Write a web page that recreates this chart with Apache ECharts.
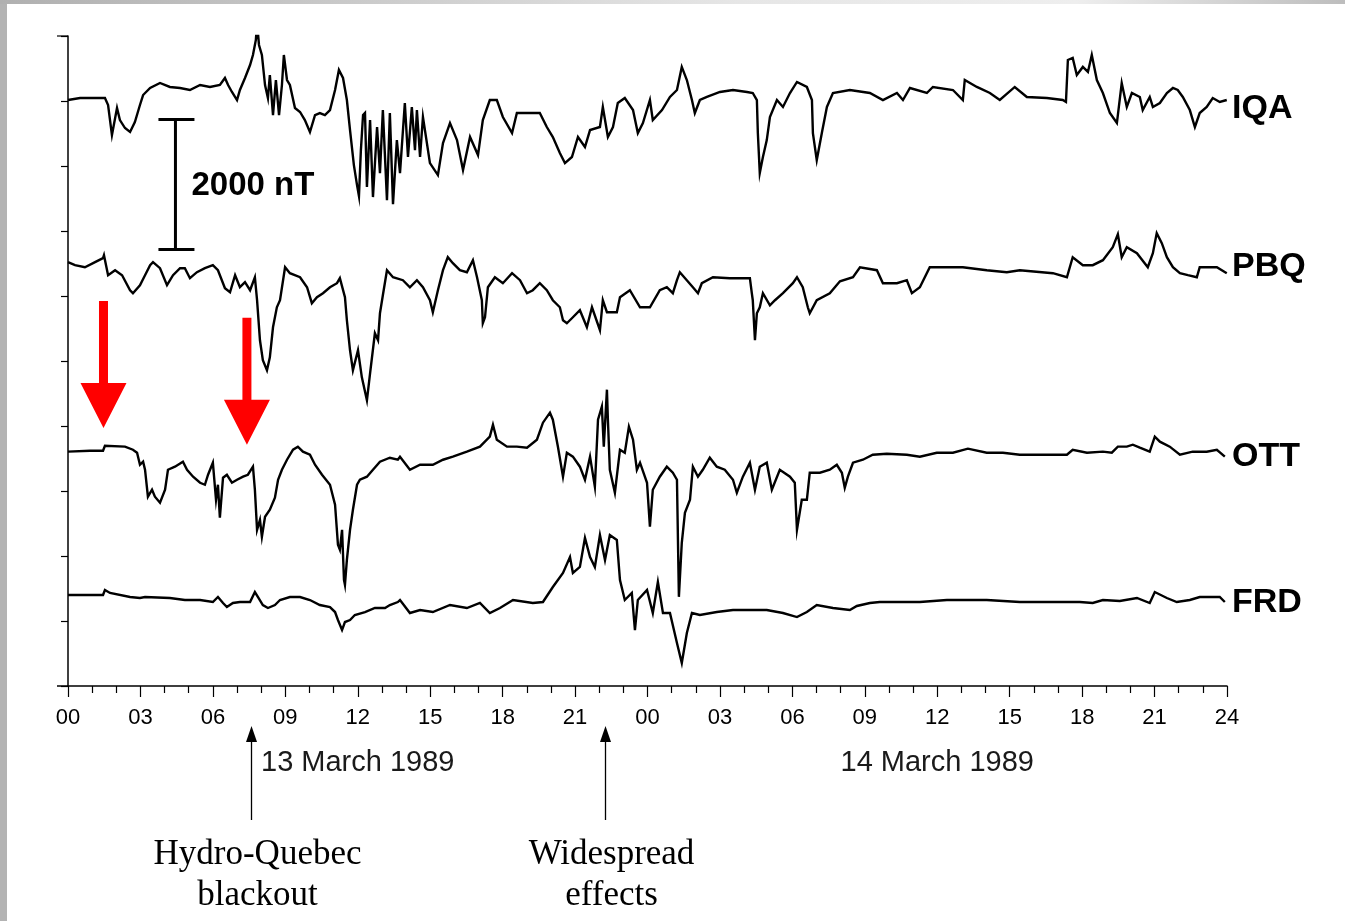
<!DOCTYPE html>
<html>
<head>
<meta charset="utf-8">
<title>Magnetograms, 13-14 March 1989</title>
<script src="https://cdn.jsdelivr.net/npm/echarts@6/dist/echarts.min.js"></script>
<style>
  html, body { margin: 0; padding: 0; background: #fff; }
  #chart { width: 1345px; height: 921px; }
</style>
</head>
<body>
<div id="chart"></div>
<script>
// Hours since 00 UT on 13 March 1989 (0..48); values are field deviations in nT
// from each station's quiet level. Traces are stacked by stationOffsets.
const stationNames = ['IQA', 'PBQ', 'OTT', 'FRD'];
const stationOffsets = [9000, 6520, 3620, 1400];

const iqaData = [
  [0.00,15],[0.50,46],[1.53,46],[1.66,-62],[1.82,-524],[1.86,-554],[2.03,-108],[2.15,-293],[2.36,-416],[2.57,-477],
  [2.77,-323],[2.98,-62],[3.11,92],[3.40,200],[3.81,277],[4.22,216],[4.64,200],[5.05,169],[5.47,246],[5.88,216],
  [6.29,246],[6.50,354],[6.63,246],[6.79,139],[7.00,15],[7.12,169],[7.33,354],[7.54,554],[7.66,708],[7.78,939],
  [7.83,1201],[7.91,862],[8.03,708],[8.16,246],[8.28,46],[8.36,400],[8.49,-216],[8.61,323],[8.74,-216],[8.86,246],
  [8.94,708],[9.07,323],[9.19,246],[9.40,-108],[9.61,-169],[9.81,-293],[10.02,-477],[10.23,-216],[10.43,-185],[10.64,-216],
  [10.85,-139],[11.06,169],[11.22,477],[11.39,354],[11.55,15],[11.68,-447],[11.84,-986],[11.97,-1294],[12.05,-1463],[12.13,-755],
  [12.22,-216],[12.30,-185],[12.38,-1324],[12.51,-293],[12.63,-1478],[12.80,-400],[12.92,-1109],[13.04,-139],[13.21,-1525],[13.33,-185],
  [13.46,-1586],[13.62,-601],[13.75,-1109],[13.95,-31],[14.08,-862],[14.24,-92],[14.37,-755],[14.45,-139],[14.58,-862],[14.70,-246],
  [14.99,-955],[15.32,-1140],[15.53,-647],[15.82,-339],[16.11,-601],[16.36,-1063],[16.65,-554],[16.98,-832],[17.18,-293],[17.47,15],
  [17.76,15],[18.01,-246],[18.39,-493],[18.59,-185],[19.01,-185],[19.54,-185],[19.83,-400],[20.08,-554],[20.37,-801],[20.58,-955],
  [20.87,-862],[21.12,-554],[21.41,-708],[21.62,-447],[22.03,-400],[22.15,-92],[22.36,-554],[22.57,-400],[22.77,-31],[23.06,46],
  [23.40,-139],[23.60,-493],[23.81,-339],[24.10,15],[24.22,-293],[24.60,-139],[24.93,62],[25.22,169],[25.42,524],[25.63,323],
  [25.84,15],[25.96,-185],[26.17,15],[26.46,62],[27.00,139],[27.54,169],[28.12,139],[28.36,123],[28.53,15],[28.57,-493],
  [28.65,-1109],[28.78,-862],[28.94,-601],[29.07,-246],[29.36,15],[29.61,-92],[29.90,123],[30.19,293],[30.60,216],[30.81,15],
  [30.85,-493],[31.01,-909],[31.22,-493],[31.43,-92],[31.68,123],[32.38,169],[33.21,123],[33.75,15],[34.33,123],[34.58,15],
  [34.87,200],[35.57,123],[35.82,216],[36.65,169],[37.06,15],[37.14,323],[37.64,216],[38.18,123],[38.59,15],[39.21,216],
  [39.71,62],[40.54,46],[41.20,15],[41.33,-15],[41.41,631],[41.61,662],[41.78,400],[42.03,524],[42.24,447],[42.40,708],
  [42.61,323],[42.86,123],[43.15,-185],[43.44,-339],[43.64,277],[43.85,-92],[44.06,123],[44.39,62],[44.51,-139],[44.80,62],
  [44.93,-92],[45.22,-31],[45.51,123],[45.76,200],[45.96,169],[46.17,62],[46.46,-139],[46.67,-400],[46.87,-185],[47.16,-92],
  [47.41,46],[47.70,-15],[47.99,15]
];

const pbqData = [
  [0.00,0],[0.29,-46],[0.70,-77],[1.12,0],[1.45,62],[1.49,108],[1.66,-200],[1.95,-123],[2.24,-200],[2.57,-431],
  [2.69,-477],[2.98,-354],[3.19,-200],[3.40,-46],[3.52,0],[3.81,-92],[4.10,-354],[4.35,-200],[4.64,-92],[4.84,-92],
  [5.05,-246],[5.34,-154],[5.67,-92],[6.00,-46],[6.21,-123],[6.50,-400],[6.71,-462],[6.92,-200],[7.12,-385],[7.33,-308],
  [7.54,-431],[7.74,-231],[7.83,-585],[7.95,-1201],[8.07,-1509],[8.24,-1663],[8.36,-1463],[8.49,-1001],[8.65,-693],[8.78,-585],
  [8.99,-77],[9.19,-169],[9.61,-231],[9.90,-385],[10.10,-631],[10.31,-539],[10.56,-477],[10.85,-385],[11.14,-323],[11.26,-246],
  [11.47,-539],[11.55,-893],[11.68,-1355],[11.80,-1663],[12.01,-1355],[12.17,-1771],[12.38,-2125],[12.51,-1709],[12.71,-1093],[12.84,-1201],
  [12.92,-785],[13.04,-508],[13.21,-123],[13.46,-231],[13.87,-277],[14.16,-385],[14.45,-277],[14.70,-385],[14.99,-585],[15.11,-770],
  [15.32,-431],[15.53,-123],[15.73,77],[15.94,-15],[16.23,-123],[16.52,-154],[16.77,31],[16.94,-231],[17.14,-585],[17.18,-939],
  [17.27,-847],[17.39,-385],[17.68,-231],[18.01,-323],[18.39,-169],[18.72,-277],[19.01,-477],[19.25,-431],[19.54,-323],[19.83,-431],
  [20.08,-585],[20.37,-693],[20.50,-893],[20.66,-939],[20.91,-847],[21.20,-739],[21.49,-1001],[21.70,-693],[22.03,-1047],[22.15,-585],
  [22.32,-770],[22.73,-770],[22.86,-539],[23.27,-431],[23.69,-693],[24.10,-693],[24.51,-431],[24.80,-385],[25.05,-477],[25.22,-277],
  [25.34,-154],[25.88,-385],[26.09,-477],[26.25,-323],[26.71,-231],[27.41,-246],[28.24,-246],[28.32,-477],[28.36,-585],[28.45,-1201],
  [28.53,-785],[28.65,-693],[28.78,-477],[29.07,-662],[29.28,-585],[29.61,-477],[30.02,-323],[30.19,-231],[30.43,-385],[30.64,-693],
  [30.72,-785],[31.01,-585],[31.55,-477],[31.97,-293],[32.51,-231],[32.80,-77],[33.50,-123],[33.75,-323],[34.33,-323],[34.74,-277],
  [34.95,-477],[35.28,-385],[35.69,-77],[36.40,-77],[37.06,-77],[38.05,-123],[38.88,-154],[39.42,-123],[40.79,-169],[41.37,-231],
  [41.61,77],[42.03,-46],[42.44,-46],[42.86,31],[43.27,231],[43.48,431],[43.64,77],[43.85,231],[44.27,139],[44.72,-77],
  [44.93,139],[45.09,447],[45.30,293],[45.51,77],[45.76,-77],[46.05,-169],[46.38,-200],[46.75,-231],[46.87,-77],[47.16,-77],
  [47.58,-77],[47.99,-169]
];

const ottData = [
  [0.00,-15],[0.91,0],[1.45,0],[1.53,77],[1.61,62],[2.36,62],[2.69,15],[2.86,-31],[2.98,-216],[3.11,-169],
  [3.19,-293],[3.31,-708],[3.48,-601],[3.60,-708],[3.81,-801],[4.02,-601],[4.14,-293],[4.43,-246],[4.76,-169],[4.93,-293],
  [5.18,-400],[5.47,-493],[5.67,-524],[5.80,-370],[6.00,-185],[6.13,-755],[6.21,-524],[6.29,-1032],[6.42,-416],[6.58,-370],
  [6.79,-493],[7.00,-447],[7.25,-400],[7.45,-370],[7.66,-246],[7.74,-601],[7.83,-1217],[7.95,-1063],[8.03,-1324],[8.16,-1016],
  [8.36,-909],[8.57,-724],[8.70,-447],[8.86,-293],[9.07,-139],[9.32,15],[9.52,62],[9.73,-15],[10.02,-62],[10.23,-216],
  [10.52,-370],[10.85,-524],[11.06,-832],[11.18,-1448],[11.26,-1525],[11.35,-1217],[11.43,-1987],[11.47,-2064],[11.55,-1679],[11.68,-1217],
  [11.80,-909],[11.97,-524],[12.09,-447],[12.38,-400],[12.63,-293],[12.92,-169],[13.33,-108],[13.66,-139],[13.75,-92],[14.16,-293],
  [14.58,-216],[15.11,-216],[15.53,-139],[15.94,-92],[16.52,-15],[17.06,62],[17.47,216],[17.60,400],[17.76,169],[18.18,62],
  [18.59,62],[19.01,46],[19.42,169],[19.67,431],[19.96,585],[20.08,477],[20.29,62],[20.50,-400],[20.66,-31],[20.91,-92],
  [21.20,-246],[21.41,-447],[21.62,-92],[21.82,-554],[21.95,477],[22.11,678],[22.19,62],[22.32,939],[22.36,477],[22.44,-293],
  [22.65,-647],[22.86,15],[23.06,-31],[23.23,370],[23.40,169],[23.56,-293],[23.69,-185],[23.98,-493],[24.10,-1170],[24.22,-601],
  [24.51,-400],[24.80,-246],[25.05,-339],[25.22,-447],[25.30,-2248],[25.42,-1417],[25.55,-955],[25.76,-755],[25.88,-246],[26.09,-400],
  [26.29,-293],[26.58,-108],[26.87,-246],[27.20,-293],[27.54,-447],[27.70,-647],[27.95,-400],[28.24,-185],[28.45,-601],[28.65,-246],
  [28.94,-185],[29.15,-601],[29.48,-293],[29.90,-400],[30.10,-493],[30.19,-1217],[30.39,-755],[30.60,-755],[30.72,-339],[31.14,-339],
  [31.55,-293],[31.84,-216],[32.05,-339],[32.17,-570],[32.30,-400],[32.51,-185],[32.92,-139],[33.33,-62],[33.91,-46],[34.74,-62],
  [35.28,-92],[35.98,-31],[36.65,-31],[37.27,31],[38.05,-31],[38.72,-31],[39.42,-62],[40.12,-62],[40.79,-62],[41.37,-62],
  [41.61,15],[42.20,-31],[42.86,-15],[43.23,-31],[43.48,62],[43.85,62],[44.10,92],[44.39,46],[44.80,-15],[45.01,216],
  [45.22,139],[45.63,62],[46.05,-62],[46.58,-15],[47.16,-15],[47.58,15],[47.91,-92]
];

const frdData = [
  [0.00,0],[1.45,0],[1.53,77],[1.74,31],[2.57,-31],[2.98,-46],[3.19,-31],[4.22,-46],[4.84,-77],[5.47,-77],
  [6.00,-108],[6.21,-31],[6.42,-123],[6.58,-185],[6.83,-123],[7.12,-108],[7.54,-108],[7.74,46],[7.87,-31],[8.07,-154],
  [8.28,-200],[8.57,-154],[8.78,-77],[9.19,-31],[9.61,-31],[10.02,-77],[10.43,-154],[10.85,-185],[11.06,-262],[11.18,-385],
  [11.35,-539],[11.47,-416],[11.68,-385],[11.88,-308],[12.30,-262],[12.71,-200],[13.13,-200],[13.33,-154],[13.66,-108],[13.75,-77],
  [14.16,-277],[14.58,-231],[15.11,-262],[15.82,-154],[16.52,-200],[17.06,-123],[17.47,-277],[17.89,-200],[18.43,-77],[19.25,-123],
  [19.67,-108],[20.08,123],[20.50,339],[20.79,585],[20.91,339],[21.20,431],[21.41,878],[21.62,585],[21.82,431],[22.03,924],
  [22.24,539],[22.44,924],[22.73,847],[22.86,231],[23.06,-77],[23.35,31],[23.48,-539],[23.60,-77],[23.98,77],[24.22,-277],
  [24.43,200],[24.64,-277],[24.93,-277],[25.22,-739],[25.42,-1047],[25.63,-585],[25.84,-277],[26.17,-308],[26.87,-262],[27.54,-231],
  [28.94,-231],[29.61,-277],[30.19,-339],[30.60,-262],[31.01,-154],[31.68,-200],[32.38,-231],[32.67,-169],[33.21,-123],[33.62,-108],
  [35.28,-108],[36.40,-77],[38.05,-77],[39.42,-108],[40.79,-108],[41.90,-108],[42.44,-123],[42.86,-77],[43.56,-92],[44.27,-46],
  [44.80,-123],[45.01,46],[45.51,-46],[45.92,-108],[46.46,-77],[46.87,-31],[47.29,-31],[47.70,-31],[47.91,-108]
];

const stationData = [iqaData, pbqData, ottData, frdData];

// Axis ticks (hours) and their labels
const hourTicks = [0, 3, 6, 9, 12, 15, 18, 21, 24, 27, 30, 33, 36, 39, 42, 45, 48];
const hourLabels = ['00','03','06','09','12','15','18','21','00','03','06','09','12','15','18','21','24'];
const dayLabels = [{ hour: 12, text: '13 March 1989' }, { hour: 36, text: '14 March 1989' }];

// Events marked under the time axis
const events = [
  { hour: 7.58, text: 'Hydro-Quebec\nblackout' },
  { hour: 22.24, text: 'Widespread\neffects' }
];
// Red arrows pointing at the OTT trace: [hour, value at arrow tip]
const redArrows = [[1.47, 3970], [7.41, 3710]];
// Vertical scale bar: [hour, lower value, upper value]
const scaleBar = [4.45, 6715, 8715];
const scaleBarText = '2000 nT';

const sans = "'Liberation Sans', Arial, Helvetica, sans-serif";
const serif = "'Liberation Serif', 'Times New Roman', serif";

// vertical nudge of each station name relative to its trace's quiet level
const nameNudge = [8, 4, 6, 8];

const chart = echarts.init(document.getElementById('chart'), null, { renderer: 'canvas' });

const series = stationNames.map((name, i) => ({
  name: name,
  type: 'line',
  showSymbol: false,
  symbol: 'none',
  animation: false,
  lineStyle: { color: '#000', width: 2.4, join: 'miter' },
  data: stationData[i].map(p => [p[0], stationOffsets[i] + p[1]])
}));

chart.setOption({
  backgroundColor: '#fff',
  animation: false,
  grid: { left: 68, right: 118, top: 36, bottom: 235 },
  xAxis: {
    type: 'value',
    min: 0, max: 48, interval: 3,
    axisLine: { show: true, onZero: false, lineStyle: { color: '#000', width: 1.5 } },
    axisTick: { show: true, length: 11, lineStyle: { color: '#000', width: 1.2 } },
    minorTick: { show: true, splitNumber: 3, length: 7, lineStyle: { color: '#000', width: 1.2 } },
    splitLine: { show: false },
    minorSplitLine: { show: false },
    axisLabel: {
      margin: 21,
      color: '#000',
      fontSize: 22,
      fontFamily: sans,
      formatter: v => {
        const k = hourTicks.indexOf(v);
        return k >= 0 ? hourLabels[k] : '';
      }
    }
  },
  yAxis: {
    type: 'value',
    min: 0, max: 10000, interval: 1000,
    axisLine: { show: true, lineStyle: { color: '#000', width: 1.5 } },
    axisTick: { show: true, length: 7, lineStyle: { color: '#000', width: 1.2 } },
    axisLabel: { show: false },
    splitLine: { show: false }
  },
  series: series
});

function px(h, v) { return chart.convertToPixel({ gridIndex: 0 }, [h, v]); }

const graphics = [];

// Frame edges of the figure
graphics.push({ type: 'rect', silent: true, z: 100, shape: { x: 0, y: 0, width: 7, height: 921 }, style: { fill: '#b3b3b3' } });
graphics.push({ type: 'rect', silent: true, z: 100, shape: { x: 0, y: 0, width: 1345, height: 4 },
  style: { fill: new echarts.graphic.LinearGradient(0, 0, 1, 0, [
    { offset: 0, color: '#b0b0b0' }, { offset: 0.55, color: '#e6e6e6' }, { offset: 0.8, color: '#eeeeee' }, { offset: 1, color: '#bdbdbd' }
  ]) } });

// Time axis line continues a little to the left of the origin
const origin = px(0, 0);
const topLeft = px(0, 10000);
graphics.push({ type: 'line', silent: true, shape: { x1: origin[0] - 11, y1: origin[1], x2: origin[0], y2: origin[1] }, style: { stroke: '#000', lineWidth: 1.5 } });
graphics.push({ type: 'line', silent: true, shape: { x1: topLeft[0] - 11, y1: topLeft[1], x2: topLeft[0], y2: topLeft[1] }, style: { stroke: '#000', lineWidth: 1.2 } });

// Station names at the right end of each trace
stationNames.forEach((name, i) => {
  const p = px(48, stationOffsets[i]);
  graphics.push({
    type: 'text', silent: true,
    x: p[0] + 5, y: p[1] + nameNudge[i],
    style: { text: name, fill: '#000', font: 'bold 34px ' + sans, textAlign: 'left', textVerticalAlign: 'middle' }
  });
});

// Day labels under the hour labels
dayLabels.forEach(d => {
  const p = px(d.hour, 0);
  graphics.push({
    type: 'text', silent: true,
    x: p[0], y: 763,
    style: { text: d.text, fill: '#1a1a1a', font: '29px ' + sans, textAlign: 'center', textVerticalAlign: 'middle' }
  });
});

// Event arrows and captions below the axis
events.forEach(e => {
  const p = px(e.hour, 0);
  const x = Math.round(p[0]) + 0.5;
  graphics.push({ type: 'line', silent: true, shape: { x1: x, y1: 738, x2: x, y2: 820 }, style: { stroke: '#000', lineWidth: 1.3 } });
  graphics.push({ type: 'polygon', silent: true, shape: { points: [[x, 726], [x - 5.5, 742], [x + 5.5, 742]] }, style: { fill: '#000' } });
  graphics.push({
    type: 'text', silent: true,
    x: x + 6, y: 875,
    style: { text: e.text, fill: '#000', font: '35px ' + serif, textAlign: 'center', textVerticalAlign: 'middle', lineHeight: 41 }
  });
});

// Red arrows
redArrows.forEach(a => {
  const t = px(a[0], a[1]);
  const L = 127, hw = 4.5, HW = 23, HH = 45;
  graphics.push({
    type: 'polygon', silent: true, z: 50,
    shape: { points: [[t[0], t[1]], [t[0] - HW, t[1] - HH], [t[0] - hw, t[1] - HH], [t[0] - hw, t[1] - L],
                      [t[0] + hw, t[1] - L], [t[0] + hw, t[1] - HH], [t[0] + HW, t[1] - HH]] },
    style: { fill: '#ff0000' }
  });
});

// Scale bar
const sb0 = px(scaleBar[0], scaleBar[1]);
const sb1 = px(scaleBar[0], scaleBar[2]);
graphics.push({ type: 'line', silent: true, shape: { x1: sb0[0], y1: sb0[1], x2: sb1[0], y2: sb1[1] }, style: { stroke: '#000', lineWidth: 3 } });
graphics.push({ type: 'line', silent: true, shape: { x1: sb0[0] - 17, y1: sb0[1], x2: sb0[0] + 19, y2: sb0[1] }, style: { stroke: '#000', lineWidth: 3 } });
graphics.push({ type: 'line', silent: true, shape: { x1: sb1[0] - 17, y1: sb1[1], x2: sb1[0] + 19, y2: sb1[1] }, style: { stroke: '#000', lineWidth: 3 } });
graphics.push({
  type: 'text', silent: true,
  x: sb0[0] + 16, y: (sb0[1] + sb1[1]) / 2 + 1,
  style: { text: scaleBarText, fill: '#000', font: 'bold 33px ' + sans, textAlign: 'left', textVerticalAlign: 'middle' }
});

chart.setOption({ graphic: graphics });
</script>
</body>
</html>
